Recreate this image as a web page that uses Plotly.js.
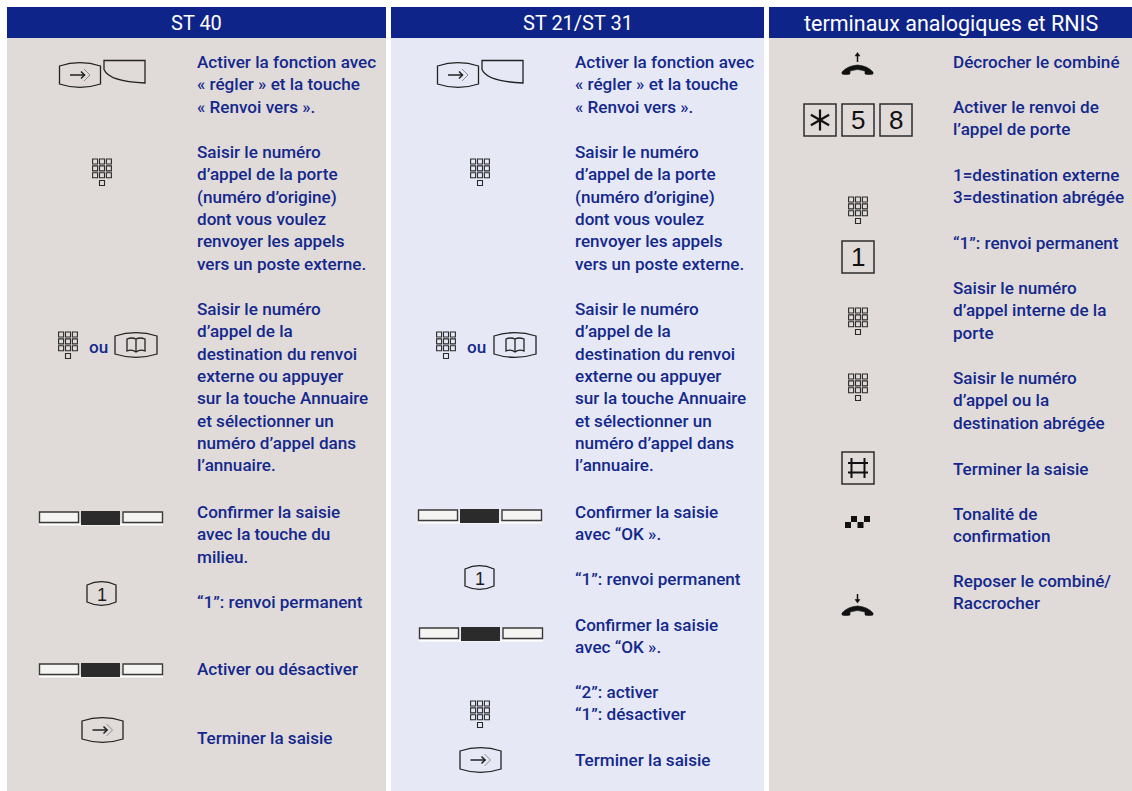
<!DOCTYPE html>
<html><head><meta charset="utf-8">
<script src="https://cdn.plot.ly/plotly-3.0.0.min.js"></script>
<style>html,body{margin:0;padding:0;background:#fff;overflow:hidden}</style>
</head><body><div id="chart" style="width:1132px;height:791px"></div>
<script>
// ---------- content ----------
const columnTitles = ["ST 40", "ST 21/ST 31", "terminaux analogiques et RNIS"];
const st40Steps = [
  ["Activer la fonction avec", "« régler » et la touche", "« Renvoi vers »."],
  ["Saisir le numéro", "d’appel de la porte", "(numéro d’origine)", "dont vous voulez", "renvoyer les appels", "vers un poste externe."],
  ["Saisir le numéro", "d’appel de la", "destination du renvoi", "externe ou appuyer", "sur la touche Annuaire", "et sélectionner un", "numéro d’appel dans", "l’annuaire."],
  ["Confirmer la saisie", "avec la touche du", "milieu."],
  ["“1”: renvoi permanent"],
  ["Activer ou désactiver"],
  ["Terminer la saisie"]
];
const st2131Steps = [
  st40Steps[0], st40Steps[1], st40Steps[2],
  ["Confirmer la saisie", "avec “OK »."],
  ["“1”: renvoi permanent"],
  ["Confirmer la saisie", "avec “OK »."],
  ["“2”: activer", "“1”: désactiver"],
  ["Terminer la saisie"]
];
const analogSteps = [
  ["Décrocher le combiné"],
  ["Activer le renvoi de", "l’appel de porte"],
  ["1=destination externe", "3=destination abrégée"],
  ["“1”: renvoi permanent"],
  ["Saisir le numéro", "d’appel interne de la", "porte"],
  ["Saisir le numéro", "d’appel ou la", "destination abrégée"],
  ["Terminer la saisie"],
  ["Tonalité de", "confirmation"],
  ["Reposer le combiné/", "Raccrocher"]
];
const orWord = "ou";

// ---------- layout ----------
const st40Y = [62, 152, 309, 512, 602, 669, 738];
const st2131Y = [62, 152, 309, 512, 579, 625, 692, 760];
const analogY = [62, 107, 175, 243, 288, 378, 469, 514, 581];
const LH = 22.35;
const NAVY = "#0f2488", INK = "#14288c", GREY = "#e0dbd9", PALE = "#e6e9f5", DARK = "#222222";
const FONT = "Roboto";

const shapes = [], annotations = [];
const P = (d, o = {}) => shapes.push({type:"path", path:d, xref:"x", yref:"y",
  line:{color:o.c||DARK, width:o.w===undefined?1:o.w}, fillcolor:o.f||"rgba(0,0,0,0)"});
const R = (x0,y0,x1,y1,o={}) => shapes.push({type:"rect", x0,y0,x1,y1, xref:"x", yref:"y",
  line:{color:o.c||DARK, width:o.w===undefined?1:o.w}, fillcolor:o.f||"rgba(0,0,0,0)"});
const T = (x,y,text,o={}) => annotations.push({x,y,text,xref:"x",yref:"y",showarrow:false,
  xanchor:o.a||"left",yanchor:"middle",align:o.a||"left",borderpad:0,
  font:{family:o.ff||FONT,size:o.s||17.1,color:o.c||INK,weight:o.wt||500}});

function panel(x0,x1,bg,title,size){
  R(x0,38,x1,791,{f:bg,w:0});
  R(x0,7,x1,38,{f:NAVY,w:0});
  T((x0+x1)/2,23,title,{a:"center",c:"#ffffff",s:size,wt:400});
}
function steps(x,blocks,ys){
  blocks.forEach((lines,i)=>lines.forEach((l,j)=>T(x,ys[i]+j*LH,l)));
}
function keypad(cx,top){
  const s=5,p=6.9;
  for(let r=0;r<3;r++)for(let c=-1;c<=1;c++){
    const x=cx+c*p-s/2,y=top+r*p;
    R(x,y,x+s,y+s,{w:1.1,c:"#2a2a2a"});
  }
  R(cx-s/2,top+21.5,cx+s/2,top+26.5,{w:1.1,c:"#2a2a2a"});
}
function keyShape(x0,x1,y0,y1){
  const m=(x0+x1)/2,d=4;
  P(`M${x0},${y0+d} Q${m},${y0-d*0.7} ${x1},${y0+d} L${x1},${y1-d} Q${m},${y1+d*0.7} ${x0},${y1-d} Z`,{w:1.3});
}
function arrowGlyph(cx,cy){
  P(`M${cx-10},${cy} L${cx+5},${cy}`,{w:1.5,c:"#222"});
  P(`M${cx+1},${cy-3.5} L${cx+4.5},${cy} L${cx+1},${cy+3.5}`,{w:1.5,c:"#222"});
  P(`M${cx+4},${cy-6} L${cx+10},${cy} L${cx+4},${cy+6}`,{w:.7,c:"#666"});
}
function arrowKey(x0,y0){ keyShape(x0,x0+41,y0,y0+26); arrowGlyph(x0+20.5,y0+13); }
function softLabelKey(x0,y0){
  P(`M${x0},${y0} L${x0+41},${y0} L${x0+41},${y0+22.5} Q${x0+5},${y0+21} ${x0},${y0+9} Z`,{w:1.3});
}
function bookKey(x0,y0){
  keyShape(x0,x0+42,y0,y0+26);
  const cx=x0+21,cy=y0+13;
  P(`M${cx},${cy-6} Q${cx-4},${cy-8} ${cx-9},${cy-6} L${cx-9},${cy+6} Q${cx-4},${cy+4} ${cx},${cy+7} Q${cx+4},${cy+4} ${cx+9},${cy+6} L${cx+9},${cy-6} Q${cx+4},${cy-8} ${cx},${cy-6} L${cx},${cy+7}`,{w:1.3,c:"#222"});
}
function softBar(x0,y0){
  R(x0,y0+12.5,x0+124,y0+14.5,{f:"#ffffff",w:0});
  R(x0+.5,y0+1,x0+39.5,y0+11.5,{f:"#f4f4f2",w:1.4,c:"#3a3a3a"});
  R(x0+42,y0,x0+81,y0+14,{f:"#2b2b2b",w:0});
  R(x0+84,y0+1,x0+123.5,y0+11.5,{f:"#f4f4f2",w:1.4,c:"#3a3a3a"});
}
function digitKey(x0,y0){
  keyShape(x0,x0+29,y0,y0+25);
  T(x0+14.5,y0+13.5,"1",{a:"center",c:"#1c1c1c",s:18,ff:"Liberation Sans",wt:400});
}
function box(x0,y0,ch){
  R(x0,y0,x0+32,y0+32,{w:1.5,c:"#2c2c2c"});
  if(ch) T(x0+16,y0+16,ch,{a:"center",c:"#111",s:26,ff:"Liberation Sans",wt:400});
}
function handset(y,topArrowUp){
  const l=842,r=873,m=857.5;
  P(`M${l},${y+9} L${l},${y+7} Q${l+5},${y+1} ${m},${y} Q${r-5},${y+1} ${r},${y+7} L${r},${y+9} Q${r-4},${y+10} ${r-8},${y+9} L${r-8},${y+6} Q${m},${y+3} ${l+8},${y+6} L${l+8},${y+9} Q${l+4},${y+10} ${l},${y+9} Z`,{f:"#111",c:"#111",w:.6});
  if(topArrowUp){
    P(`M${m},${y-3} L${m},${y-10}`,{w:1.5,c:"#111"});
    P(`M${m-2.5},${y-9} L${m},${y-12.5} L${m+2.5},${y-9} Z`,{f:"#111",c:"#111",w:.5});
  } else {
    P(`M${m},${y-12} L${m},${y-6}`,{w:1.5,c:"#111"});
    P(`M${m-2.5},${y-6.5} L${m},${y-3} L${m+2.5},${y-6.5} Z`,{f:"#111",c:"#111",w:.5});
  }
}

// panels
panel(7,386,GREY,columnTitles[0],20);
panel(391,764,PALE,columnTitles[1],20);
panel(769,1132,GREY,columnTitles[2],21.5);

// text blocks
steps(196,st40Steps,st40Y);
steps(574,st2131Steps,st2131Y);
steps(952,analogSteps,analogY);

// ST 40 icons
arrowKey(59.5,62); softLabelKey(104,60.5);
keypad(102,159);
keypad(68,332); T(88,347,orWord); bookKey(115,332);
softBar(39,511);
digitKey(87,581);
softBar(39,663);
arrowKey(82,717);

// ST 21/ST 31 icons
arrowKey(437.5,62); softLabelKey(482,60.5);
keypad(480,159);
keypad(446,332); T(466,347,orWord); bookKey(494,332);
softBar(418,509);
digitKey(465,565);
softBar(419,627);
keypad(480,701);
arrowKey(460,747);

// analogue icons
handset(65,true);
box(804,104); box(842,104,"5"); box(880,104,"8");
[[0],[60],[120]].forEach(([a])=>{
  const r=10.5,t=a*Math.PI/180,cx=820,cy=120;
  const dx=r*Math.sin(t),dy=r*Math.cos(t);
  P(`M${cx-dx},${cy-dy} L${cx+dx},${cy+dy}`,{w:2.2,c:"#111"});
});
keypad(858,197);
box(842,241,"1");
keypad(858,308);
keypad(858,374);
box(842,452);
P("M851.5,458 L851.5,478 M864.5,458 L864.5,478 M848,463 L868,463 M848,472.5 L868,472.5",{w:2,c:"#111"});
[[845,522],[851,516],[857.5,522],[864,516]].forEach(([x,y])=>R(x,y,x+6,y+6,{f:"#111",w:0}));
handset(606,false);

Plotly.newPlot("chart",[],{
  width:1132,height:791,margin:{l:0,r:0,t:0,b:0,pad:0},
  paper_bgcolor:"#ffffff",plot_bgcolor:"#ffffff",showlegend:false,
  xaxis:{range:[0,1132],visible:false,fixedrange:true},
  yaxis:{range:[791,0],visible:false,fixedrange:true},
  shapes,annotations
},{staticPlot:true,displayModeBar:false});
</script></body></html>
